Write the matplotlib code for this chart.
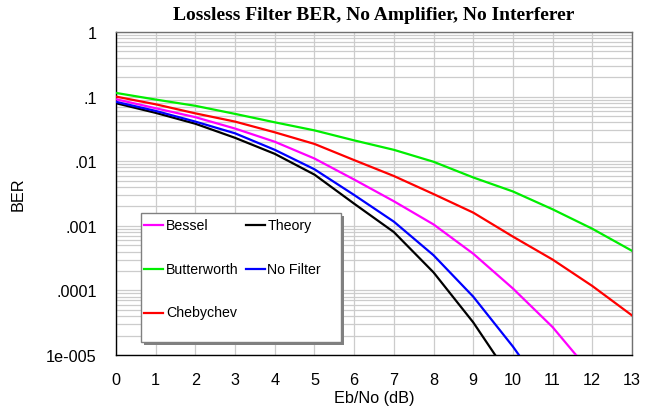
import matplotlib
matplotlib.use("Agg")
import matplotlib.pyplot as plt
from matplotlib.patches import Rectangle
from matplotlib.ticker import LogLocator, NullFormatter
from matplotlib.transforms import ScaledTranslation

# ---- data ----
ebno = [0, 1, 2, 3, 4, 5, 6, 7, 8, 9, 10, 11, 12, 13]

bessel_x = [0, 1, 2, 3, 4, 5, 6, 7, 8, 9, 10, 11, 12]
bessel_y = [0.091, 0.066, 0.048, 0.032, 0.020, 0.011, 0.0052, 0.0024,
            0.00105, 0.00037, 0.000107, 2.7e-5, 5e-6]

butter_x = ebno
butter_y = [0.114, 0.090, 0.072, 0.054, 0.040, 0.030, 0.021, 0.015,
            0.0098, 0.0056, 0.0034, 0.0018, 0.0009, 0.00041]

cheby_x = ebno
cheby_y = [0.100, 0.076, 0.055, 0.041, 0.028, 0.0185, 0.0104, 0.0059,
           0.0031, 0.0016, 0.00068, 0.00030, 0.000117, 4.1e-5]

theory_x = [0, 1, 2, 3, 4, 5, 6, 7, 8, 9, 10]
theory_y = [0.079, 0.056, 0.038, 0.023, 0.013, 0.0062, 0.0022, 0.0008,
            0.00019, 3.2e-5, 3.9e-6]

nofilt_x = [0, 1, 2, 3, 4, 5, 6, 7, 8, 9, 10, 10.5]
nofilt_y = [0.083, 0.060, 0.041, 0.027, 0.015, 0.0075, 0.0030, 0.00116,
            0.00035, 8e-5, 1.35e-5, 5e-6]

y_ticks = [1e-5, 1e-4, 1e-3, 1e-2, 1e-1, 1]
y_ticklabels = ["1e-005", ".0001", ".001", ".01", ".1", "1"]

W, H = 652, 413
FS = 11.7
LFS = 10.2
fig = plt.figure(figsize=(W / 100, H / 100), dpi=100)
ax = fig.add_axes([116 / W, 1 - 355 / H, (632 - 116) / W, (355 - 32) / H])

lw = 1.6
series = [
    ("Bessel", bessel_x, bessel_y, "#ff00ff"),
    ("Butterworth", butter_x, butter_y, "#00ee00"),
    ("Chebychev", cheby_x, cheby_y, "#ff0000"),
    ("Theory", theory_x, theory_y, "#000000"),
    ("No Filter", nofilt_x, nofilt_y, "#0000ff"),
]
for name, xs, ys, c in series:
    ax.plot(xs, ys, color=c, lw=lw, label=name, zorder=3)

ax.set_yscale("log")
ax.set_xlim(0, 13)
ax.set_ylim(1e-5, 1)
ax.set_xticks(ebno)
ax.set_yticks(y_ticks)
ax.set_yticklabels(y_ticklabels)
ax.yaxis.set_minor_locator(LogLocator(base=10, subs=range(2, 10)))
ax.yaxis.set_minor_formatter(NullFormatter())

gc = "#cccccc"
ax.grid(True, which="major", axis="both", color=gc, lw=0.9, zorder=0)
ax.grid(True, which="minor", axis="y", color=gc, lw=0.9, zorder=0)
ax.set_axisbelow(True)

ax.tick_params(which="both", length=0)
ax.tick_params(axis="y", pad=14, labelsize=FS)
ax.tick_params(axis="x", pad=13, labelsize=FS)
for lab in ax.get_xticklabels() + ax.get_yticklabels():
    lab.set_fontfamily("Liberation Sans")
shift = ScaledTranslation(0, -2.5 / 100, fig.dpi_scale_trans)
for lab in ax.get_yticklabels():
    lab.set_verticalalignment("center")
    lab.set_transform(lab.get_transform() + shift)

for s in ["left", "bottom"]:
    ax.spines[s].set_color("black")
    ax.spines[s].set_linewidth(1.0)
for s in ["top", "right"]:
    ax.spines[s].set_color("#707070")
    ax.spines[s].set_linewidth(1.0)

fig.text(374 / W, 1 - 16 / H, "Lossless Filter BER, No Amplifier, No Interferer",
         ha="center", va="center", fontsize=14.0, fontweight="bold",
         family="Liberation Serif")
fig.text(374 / W, 1 - 399 / H, "Eb/No (dB)", ha="center", va="center",
         fontsize=FS, family="Liberation Sans")
fig.text(18 / W, 1 - 194 / H, "BER", ha="center", va="center", rotation=90,
         fontsize=FS, family="Liberation Sans")

# legend box with shadow
bx0, by0, bx1, by1 = 141, 213, 341, 342
shadow = Rectangle((bx0 + 3, H - by1 - 3), bx1 - bx0, by1 - by0,
                   transform=None, facecolor="#808080", edgecolor="none", zorder=4)
box = Rectangle((bx0, H - by1), bx1 - bx0, by1 - by0, transform=None,
                facecolor="white", edgecolor="#808080", lw=1.0, zorder=5)
fig.patches.extend([shadow, box])

leg = fig.legend(loc="upper left", bbox_to_anchor=(144 / W, 1 - 219 / H),
                 ncol=2, frameon=False, borderpad=0, borderaxespad=0,
                 handlelength=1.34, handletextpad=0.2, columnspacing=0.5,
                 labelspacing=2.1, prop={"family": "Liberation Sans", "size": LFS})
leg.set_zorder(6)

fig.savefig("out.png", dpi=100)
